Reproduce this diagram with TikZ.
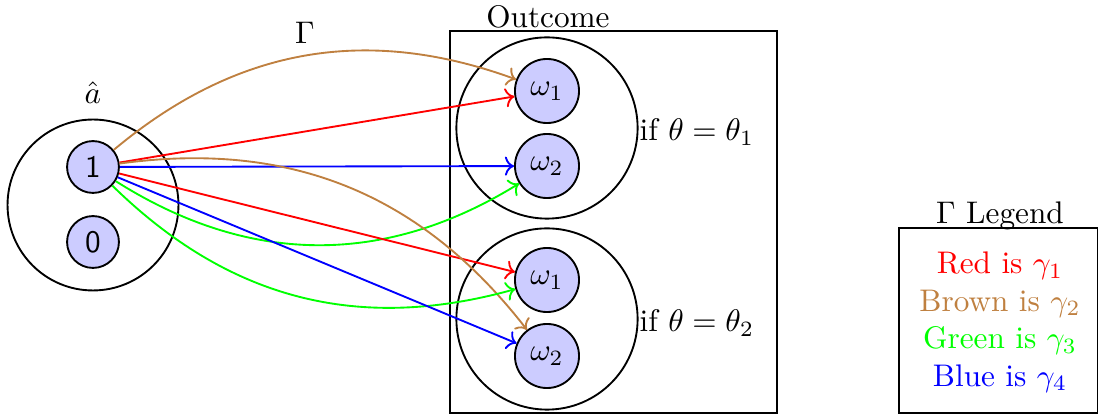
\documentclass[tikz,border=0pt]{standalone}
\usetikzlibrary{arrows.meta}
\definecolor{gbrown}{rgb}{0.75,0.5,0.25}
\begin{document}
\begin{tikzpicture}[x=0.32pt,y=-0.32pt,
  every node/.style={inner sep=0pt},
  bigc/.style={circle,draw,line width=0.6pt},
  smallc/.style={circle,draw,fill=blue!20,line width=0.6pt},
  conn/.style={->,line width=0.6pt},
  box/.style={draw,line width=0.6pt,rectangle}]
\useasboundingbox (0,0) rectangle (1098,419);
% left group
\node[bigc,minimum size=54.7pt] (A) at (93,205) {};
\node[smallc,minimum size=16.6pt] (n1) at (93,167) {\sffamily 1};
\node[smallc,minimum size=16.6pt] (n0) at (93,242) {\sffamily 0};
\node (ahat) at (93,93) {$\hat{a}$};
% outcome box
\node[box,minimum width=104.6pt,minimum height=122.2pt] (out) at (613.5,222) {};
\node (outl) at (548,17) {Outcome};
\node[bigc,minimum size=58pt] (U) at (547,128) {};
\node[bigc,minimum size=58pt] (L) at (547,319) {};
\node[smallc,minimum size=20.5pt] (t1) at (547,91) {$\omega_1$};
\node[smallc,minimum size=20.5pt] (t2) at (547,166) {$\omega_2$};
\node[smallc,minimum size=20.5pt] (b1) at (547,280) {$\omega_1$};
\node[smallc,minimum size=20.5pt] (b2) at (547,356) {$\omega_2$};
\node[anchor=west] (c1) at (639,132) {if $\theta=\theta_1$};
\node[anchor=west] (c2) at (639,323) {if $\theta=\theta_2$};
% legend
\node[box,minimum width=63.6pt,minimum height=59.2pt] (leg) at (998.5,320.5) {};
\node (legl) at (1000,216) {$\Gamma$ Legend};
\node[align=center] (legt) at (1000,322) {\textcolor{red}{Red is $\gamma_1$}\\
\textcolor{gbrown}{Brown is $\gamma_2$}\\
\textcolor{green}{Green is $\gamma_3$}\\
\textcolor{blue}{Blue is $\gamma_4$}};
\node (G) at (305,33) {$\Gamma$};
% connectors
\draw[conn,gbrown] (n1) to[bend left=30] (t1);
\draw[conn,red] (n1) -- (t1);
\draw[conn,blue] (n1) -- (t2);
\draw[conn,green] (n1) to[bend right=32] (t2);
\draw[conn,red] (n1) -- (b1);
\draw[conn,gbrown] (n1) to[bend left=30] (b2);
\draw[conn,green] (n1) to[bend right=30] (b1);
\draw[conn,blue] (n1) -- (b2);
\end{tikzpicture}
\end{document}
